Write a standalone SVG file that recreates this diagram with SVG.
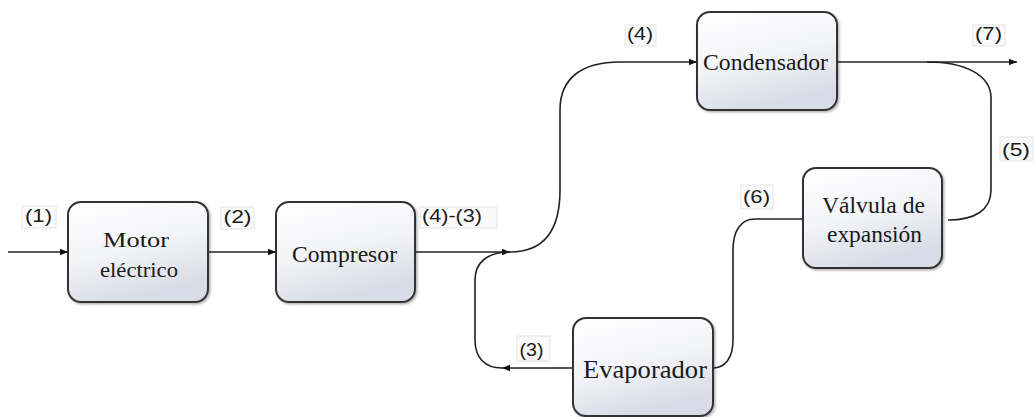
<svg xmlns="http://www.w3.org/2000/svg" width="1034" height="417" viewBox="0 0 1034 417">
<defs>
<linearGradient id="g" x1="0" y1="0" x2="0.35" y2="1">
<stop offset="0" stop-color="#ffffff"/>
<stop offset="0.55" stop-color="#f3f4f8"/>
<stop offset="1" stop-color="#d9dce6"/>
</linearGradient>
<filter id="sh" x="-10%" y="-10%" width="130%" height="130%">
<feDropShadow dx="1.5" dy="1.5" stdDeviation="1.2" flood-color="#000" flood-opacity="0.3"/>
</filter>
<marker id="ar" viewBox="0 0 10 10" refX="10" refY="5" markerWidth="8" markerHeight="8" markerUnits="userSpaceOnUse" orient="auto">
<path d="M0,1 L10,5 L0,9 Z" fill="#111"/>
</marker>
</defs>
<style>
.box{fill:url(#g);stroke:#333;stroke-width:2;filter:url(#sh)}
.bt{font-family:"Liberation Serif","Times New Roman",serif;fill:#1a1a1a;text-anchor:middle}
.lb{font-family:"Liberation Sans",Arial,sans-serif;font-size:18px;fill:#1a1a1a;text-anchor:middle}
.lbox{fill:#fafafa;stroke:#e4e4e4;stroke-width:1}
.c{fill:none;stroke:#222;stroke-width:1.6}
</style>
<rect width="1034" height="417" fill="#ffffff"/>

<g id="connectors">
<path class="c" d="M8,252 H68" marker-end="url(#ar)"/>
<path class="c" d="M208,252 H276" marker-end="url(#ar)"/>
<path class="c" d="M415,252 H510" marker-end="url(#ar)"/>
<path class="c" d="M510,252 C545,252 560,230 560,190 V110 C560,78 582,62 620,62 H697" marker-end="url(#ar)"/>
<path class="c" d="M837,62 H1017" marker-end="url(#ar)"/>
<path class="c" d="M927,62 C965,62 991,75 991,98 V190 C991,210 975,220 948,220"/>
<path class="c" d="M803,219 H755 C740,219 733,232 733,250 V340 C733,358 725,368 713,368"/>
<path class="c" d="M573,368 H502" marker-end="url(#ar)"/>
<path class="c" d="M502,368 C485,368 475,358 475,340 V280 C475,262 488,252 510,252"/>
</g>

<g id="labels">
<rect class="lbox" x="22" y="206" width="34" height="22" fill-opacity="0.6"/>
<text class="lb" x="38.5" y="222" textLength="27" lengthAdjust="spacingAndGlyphs">(1)</text>
<rect class="lbox" x="221" y="207" width="33" height="22"/>
<text class="lb" x="237.5" y="223" textLength="28" lengthAdjust="spacingAndGlyphs">(2)</text>
<rect class="lbox" x="420" y="207" width="77" height="21"/>
<text class="lb" x="452" y="222" textLength="60" lengthAdjust="spacingAndGlyphs">(4)-(3)</text>
<rect class="lbox" x="625" y="25" width="31" height="21"/>
<text class="lb" x="640" y="40" textLength="26" lengthAdjust="spacingAndGlyphs">(4)</text>
<rect class="lbox" x="973" y="25" width="32" height="21"/>
<text class="lb" x="988.5" y="40" textLength="27" lengthAdjust="spacingAndGlyphs">(7)</text>
<rect class="lbox" x="1000" y="137" width="33" height="24"/>
<text class="lb" x="1016" y="156" textLength="28" lengthAdjust="spacingAndGlyphs">(5)</text>
<rect class="lbox" x="741" y="185" width="32" height="24"/>
<text class="lb" x="756.5" y="203" textLength="27" lengthAdjust="spacingAndGlyphs">(6)</text>
<rect class="lbox" x="517" y="336" width="33" height="25"/>
<text class="lb" x="531.5" y="356" textLength="24" lengthAdjust="spacingAndGlyphs">(3)</text>
</g>

<g id="motor">
<rect class="box" x="68" y="202" width="140" height="100" rx="13"/>
<text class="bt" x="136" y="247" font-size="21" textLength="66" lengthAdjust="spacingAndGlyphs">Motor</text>
<text class="bt" x="139" y="277" font-size="22" textLength="78" lengthAdjust="spacingAndGlyphs">eléctrico</text>
</g>
<g id="compresor">
<rect class="box" x="276" y="202" width="139" height="100" rx="13"/>
<text class="bt" x="344.5" y="262" font-size="24" textLength="105" lengthAdjust="spacingAndGlyphs">Compresor</text>
</g>
<g id="condensador">
<rect class="box" x="697" y="12" width="140" height="98" rx="13"/>
<text class="bt" x="765.5" y="70" font-size="24" textLength="125" lengthAdjust="spacingAndGlyphs">Condensador</text>
</g>
<g id="valvula">
<rect class="box" x="803" y="168" width="139" height="100" rx="13"/>
<text class="bt" x="873.5" y="213" font-size="23" textLength="103" lengthAdjust="spacingAndGlyphs">Válvula de</text>
<text class="bt" x="874.5" y="242" font-size="23" textLength="95" lengthAdjust="spacingAndGlyphs">expansión</text>
</g>
<g id="evaporador">
<rect class="box" x="573" y="318" width="140" height="98" rx="13"/>
<text class="bt" x="645" y="378" font-size="26" textLength="124" lengthAdjust="spacingAndGlyphs">Evaporador</text>
</g>
</svg>
